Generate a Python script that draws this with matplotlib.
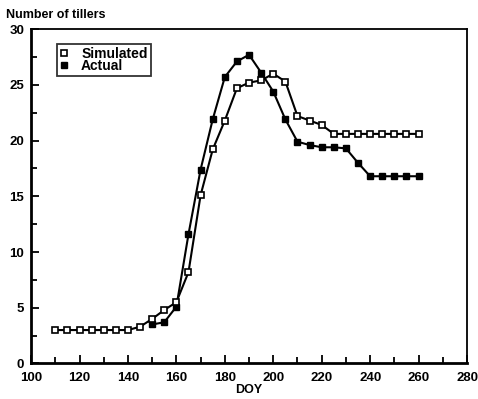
import matplotlib
matplotlib.use("Agg")
import matplotlib.pyplot as plt
from matplotlib.ticker import MultipleLocator

plt.rcParams['font.family'] = ['Liberation Sans', 'DejaVu Sans']

sim_doy = [110, 115, 120, 125, 130, 135, 140, 145, 150, 155, 160, 165, 170, 175,
           180, 185, 190, 195, 200, 205, 210, 215, 220, 225, 230, 235, 240, 245,
           250, 255, 260]
sim_tillers = [3.0, 3.0, 3.0, 3.0, 3.0, 3.0, 3.0, 3.3, 4.0, 4.8, 5.5, 8.2, 15.1,
               19.2, 21.8, 24.7, 25.2, 25.4, 26.0, 25.3, 22.2, 21.8, 21.4, 20.6,
               20.6, 20.6, 20.6, 20.6, 20.6, 20.6, 20.6]

act_doy = [150, 155, 160, 165, 170, 175, 180, 185, 190, 195, 200, 205, 210, 215,
           220, 225, 230, 235, 240, 245, 250, 255, 260]
act_tillers = [3.5, 3.7, 5.1, 11.6, 17.4, 21.9, 25.7, 27.1, 27.7, 26.1, 24.4, 21.9,
               19.9, 19.6, 19.4, 19.4, 19.3, 18.0, 16.8, 16.8, 16.8, 16.8, 16.8]

fig = plt.figure(figsize=(4.78, 3.99), dpi=100)
ax = fig.add_axes([0.065, 0.089, 0.912, 0.838])

ax.plot(act_doy, act_tillers, color='black', lw=1.5, marker='s', ms=5,
        mfc='black', mec='black', label='Actual', zorder=3)
ax.plot(sim_doy, sim_tillers, color='black', lw=1.5, marker='s', ms=5,
        mfc='white', mec='black', mew=1.2, label='Simulated', zorder=4)

ax.set_xlim(100, 280)
ax.set_ylim(0, 30)
ax.xaxis.set_major_locator(MultipleLocator(20))
ax.xaxis.set_minor_locator(MultipleLocator(10))
ax.yaxis.set_major_locator(MultipleLocator(5))
ax.yaxis.set_minor_locator(MultipleLocator(2.5))
ax.tick_params(which='both', direction='in', top=False, right=False,
               labelsize=9.5, width=1.3)
ax.tick_params(axis='x', which='major', pad=6)
ax.tick_params(axis='y', which='major', pad=5)
ax.tick_params(which='major', length=6)
ax.tick_params(which='minor', length=4)
for lab in ax.get_xticklabels() + ax.get_yticklabels():
    lab.set_fontweight('bold')

for s in ['left', 'bottom']:
    ax.spines[s].set_linewidth(2.0)
for s in ['top', 'right']:
    ax.spines[s].set_linewidth(1.3)

ax.set_xlabel('DOY', fontsize=9, fontweight='bold', labelpad=0)
fig.text(0.012, 0.962, 'Number of tillers', fontsize=9, fontweight='bold',
         va='center', ha='left')

handles, labels = ax.get_legend_handles_labels()
leg = ax.legend(handles[::-1], labels[::-1], loc='upper left',
                bbox_to_anchor=(0.06, 0.957), frameon=True, fancybox=False,
                edgecolor='black', handlelength=0.6, handletextpad=0.9,
                borderpad=0.22, labelspacing=-0.1, borderaxespad=0,
                prop={'weight': 'bold', 'size': 10}, markerscale=0.8)
for h in leg.legend_handles:
    h.set_linestyle('none')
leg.get_frame().set_linewidth(1.3)

fig.savefig('out.png', dpi=100)
